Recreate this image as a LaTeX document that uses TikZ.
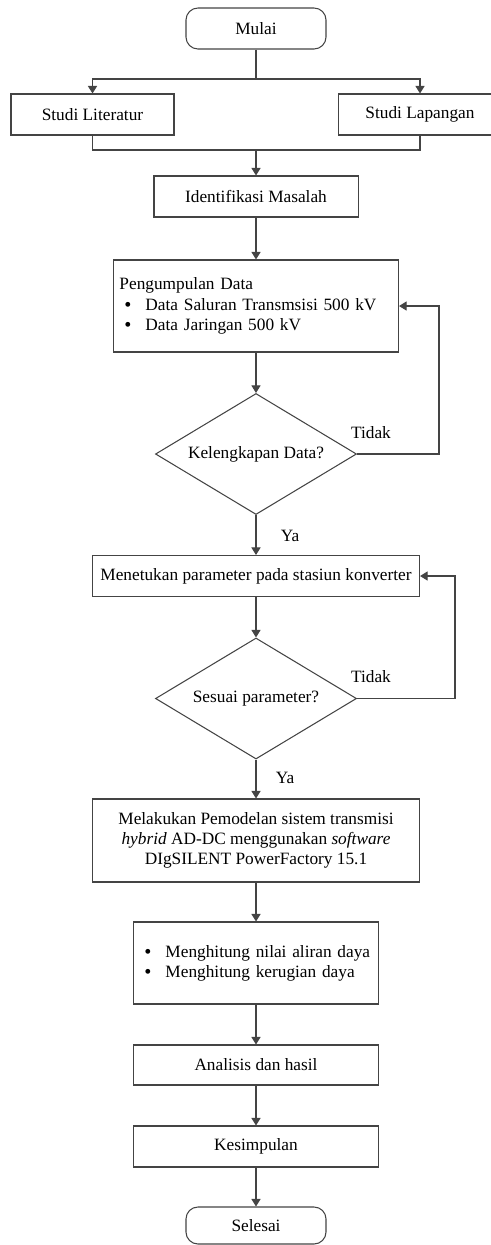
\documentclass[tikz,border=0pt]{standalone}
\usepackage{fontspec}
\setmainfont{Liberation Serif}
\usepackage{tikz}
\usetikzlibrary{
  positioning,
  arrows.meta,
  shapes.geometric
}
\definecolor{garisabu}{HTML}{444444}
\newcommand{\butir}{\hspace*{0.125cm}\makebox[0.525cm][l]{\raisebox{-0.2ex}{\Large\textbullet}}}

\begin{document}
\begin{tikzpicture}[x=0.025cm, y=-0.025cm,
    font=\fontsize{12.3}{14.4}\selectfont,
    terminal/.style={draw=garisabu, line width=0.75pt, rounded corners=0.3cm, minimum width=3.5cm, minimum height=1.025cm},
    proses/.style={draw=garisabu, line width=0.75pt, minimum height=1.025cm, inner sep=0pt},
    keputusan/.style={draw=garisabu, line width=0.75pt, diamond, aspect=1.66, minimum width=5.025cm, minimum height=3.025cm, inner sep=0pt},
    garis/.style={draw=garisabu, line width=0.75pt},
    panah/.style={garis, -{Triangle[length=1.9mm, width=2.3mm]}}]
      \useasboundingbox (0,0) rectangle (491,1245);

      % Start and literature study
      \node[terminal] (mulai) at (256,28.5) {Mulai};
      \node[proses, minimum width=4.075cm] (lit) at (92.5,114.5) {Studi Literatur};
      \node[proses, minimum width=4.075cm] (lap) at (420,114.5) {Studi Lapangan};
      \node[proses, minimum width=5.1cm] (idn) at (256,196.5) {Identifikasi Masalah};

      % Data collection
      \node[proses, minimum height=2.3cm, inner xsep=0.15cm, text width=6.825cm, align=left] (data) at (256,306)
        {Pengumpulan Data\\\butir Data Saluran Transmsisi 500 kV\\\butir Data Jaringan 500 kV};
      \node[keputusan] (dia1) at (256,454) {Kelengkapan Data?};
      \node (tdk1) at (371,433) {Tidak};
      \node (ya1) at (290,536) {Ya};
      \coordinate (b1) at (439,454);

      % Converter parameters
      \node[proses, minimum width=8.175cm] (men) at (256,576) {Menetukan parameter pada stasiun konverter};
      \node[keputusan] (dia2) at (256,698.5) {Sesuai parameter?};
      \node (tdk2) at (371,677) {Tidak};
      \node (ya2) at (285,778) {Ya};
      \coordinate (b2) at (455,698.5);

      % Modelling and analysis
      \node[proses, minimum width=8.175cm, minimum height=2.075cm, align=center] (mel) at (256,840.5)
        {Melakukan Pemodelan sistem transmisi\\\textit{hybrid} AD-DC menggunakan \textit{software}\\DIgSILENT PowerFactory 15.1};
      \node[proses, minimum height=2.05cm, inner xsep=0.15cm, text width=5.825cm, align=left] (hit) at (256,963)
        {\butir Menghitung nilai aliran daya\\\butir Menghitung kerugian daya};
      \node[proses, minimum width=6.125cm, minimum height=1cm] (ana) at (256,1065) {Analisis dan hasil};
      \node[proses, minimum width=6.125cm] (kes) at (256,1146.5) {Kesimpulan};
      \node[terminal, minimum height=0.925cm] (sel) at (256,1225.5) {Selesai};

      % Connectors
      \coordinate (s0) at (256,79);
      \coordinate (s1) at (256,150);
      \draw[garis] (mulai) -- (s0);
      \draw[panah] (s0) -| (lit);
      \draw[panah] (s0) -| (lap);
      \draw[garis] (lit) |- (s1);
      \draw[garis] (lap) |- (s1);
      \draw[panah] (s1) -- (idn);
      \draw[panah] (idn) -- (data);
      \draw[panah] (data) -- (dia1);
      \draw[panah] (dia1.east) -- (b1) |- (data.east);
      \draw[panah] (dia1) -- (men);
      \draw[panah] (men) -- (dia2);
      \draw[panah] (dia2.east) -- (b2) |- (men.east);
      \draw[panah] (dia2) -- (mel);
      \draw[panah] (mel) -- (hit);
      \draw[panah] (hit) -- (ana);
      \draw[panah] (ana) -- (kes);
      \draw[panah] (kes) -- (sel);
    \end{tikzpicture}
\end{document}
